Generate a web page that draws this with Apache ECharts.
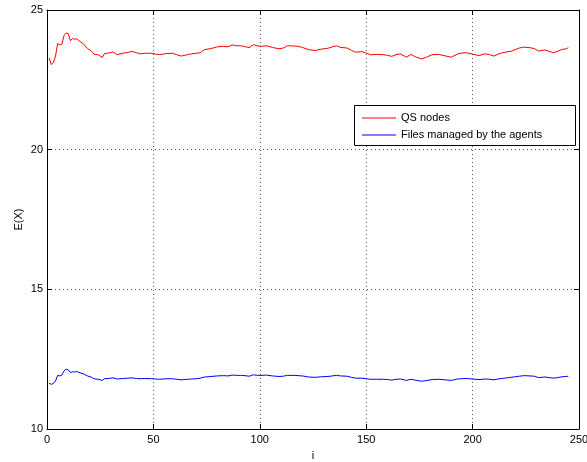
<!DOCTYPE html>
<html>
<head>
<meta charset="utf-8">
<script src="https://cdn.jsdelivr.net/npm/echarts@6/dist/echarts.min.js"></script>
<style>html,body{margin:0;padding:0;background:#fff;}#c{width:587px;height:462px;}</style>
</head>
<body>
<div id="c"></div>
<script>
var xs = [1,2,3,4,5,6,7,8,9,10,11,12,13,14,15,17,19,21,22,24,26,27,29,31,33,36,38,40,42,44,46,49,51,53,56,59,61,63,66,68,70,72,74,77,80,83,85,87,89,91,93,95,97,99,101,103,106,109,111,113,116,118,120,123,126,129,132,134,136,138,141,143,145,148,150,152,155,158,160,162,164,166,169,171,173,176,178,181,184,187,190,193,195,197,200,203,206,208,210,212,214,216,218,220,222,224,227,229,231,234,236,238,240,242,244,245];
var qsNodes = [23.28,23.05,23.12,23.35,23.80,23.75,23.78,24.08,24.18,24.15,23.90,23.98,23.95,23.97,23.90,23.80,23.62,23.52,23.42,23.40,23.30,23.44,23.46,23.50,23.40,23.46,23.48,23.52,23.47,23.43,23.45,23.45,23.42,23.40,23.44,23.45,23.40,23.35,23.40,23.43,23.45,23.47,23.58,23.62,23.68,23.70,23.68,23.75,23.72,23.72,23.69,23.65,23.76,23.71,23.70,23.72,23.66,23.61,23.64,23.72,23.71,23.70,23.66,23.58,23.55,23.60,23.63,23.68,23.72,23.66,23.64,23.56,23.49,23.51,23.46,23.40,23.41,23.40,23.38,23.34,23.40,23.43,23.31,23.41,23.33,23.25,23.30,23.40,23.41,23.36,23.31,23.43,23.46,23.47,23.42,23.37,23.43,23.40,23.35,23.42,23.47,23.50,23.52,23.58,23.64,23.67,23.65,23.62,23.53,23.57,23.52,23.47,23.52,23.59,23.61,23.65];
var filesManaged = [11.64,11.60,11.63,11.72,11.92,11.90,11.93,12.08,12.14,12.12,12.02,12.05,12.04,12.06,12.02,11.98,11.90,11.85,11.80,11.78,11.74,11.80,11.81,11.83,11.79,11.81,11.82,11.83,11.81,11.80,11.81,11.80,11.79,11.78,11.80,11.80,11.78,11.76,11.78,11.79,11.80,11.82,11.86,11.88,11.90,11.91,11.90,11.93,11.92,11.92,11.91,11.89,11.94,11.92,11.92,11.93,11.90,11.88,11.89,11.92,11.92,11.91,11.90,11.86,11.85,11.87,11.88,11.90,11.92,11.90,11.89,11.85,11.82,11.82,11.80,11.78,11.78,11.78,11.77,11.75,11.78,11.79,11.74,11.78,11.75,11.71,11.73,11.77,11.78,11.76,11.74,11.79,11.80,11.81,11.79,11.77,11.79,11.78,11.76,11.79,11.81,11.83,11.85,11.87,11.89,11.91,11.90,11.89,11.84,11.86,11.84,11.82,11.84,11.87,11.88,11.89];
var seriesNames = ['QS nodes','Files managed by the agents'];
var xTicks = {min:0, max:250, interval:50};
var yTicks = {min:10, max:25, interval:5};

var font = 'Liberation Sans, Arial, Helvetica, sans-serif';
var chart = echarts.init(document.getElementById('c'), null, {renderer:'canvas'});
function pairs(v){ return xs.map(function(x,k){ return [x, v[k]]; }); }
var axisBase = {
  axisLine:{show:true, onZero:false, lineStyle:{color:'#000', width:1}},
  axisTick:{show:true, inside:true, length:5, lineStyle:{color:'#000', width:1}}
};
chart.setOption({
  animation:false,
  backgroundColor:'#fff',
  grid:{left:47, right:8, top:10, bottom:33, containLabel:false, outerBoundsMode:'none'},
  xAxis:[
    Object.assign({type:'value', position:'bottom', min:xTicks.min, max:xTicks.max, interval:xTicks.interval,
      name:'i', nameLocation:'middle', nameGap:21, nameTextStyle:{color:'#000', fontSize:11, fontFamily:font},
      axisLabel:{color:'#000', fontSize:11, fontFamily:font, margin:5},
      splitLine:{show:true, lineStyle:{color:'#555', type:[1,3], width:1}}}, axisBase),
    Object.assign({type:'value', position:'top', min:xTicks.min, max:xTicks.max, interval:xTicks.interval,
      axisLabel:{show:false}, splitLine:{show:false}}, axisBase)
  ],
  yAxis:[
    Object.assign({type:'value', position:'left', min:yTicks.min, max:yTicks.max, interval:yTicks.interval,
      name:'E(X)', nameLocation:'middle', nameGap:23, nameMoveOverlap:false, nameRotate:90, nameTextStyle:{color:'#000', fontSize:11, fontFamily:font},
      axisLabel:{color:'#000', fontSize:11, fontFamily:font, margin:4},
      splitLine:{show:true, lineStyle:{color:'#555', type:[1,3], width:1}}}, axisBase),
    Object.assign({type:'value', position:'right', min:yTicks.min, max:yTicks.max, interval:yTicks.interval,
      axisLabel:{show:false}, splitLine:{show:false}}, axisBase)
  ],
  graphic:[{type:'rect', left:354, top:105, z:3, shape:{width:221, height:40},
    style:{fill:'#fff', stroke:'#000', lineWidth:1}}],
  legend:{
    orient:'vertical', left:362, top:111, z:10, itemGap:3, itemWidth:34, itemHeight:1,
    icon:'rect', padding:0,
    textStyle:{color:'#000', fontSize:11, fontFamily:font, lineHeight:14},
    data:seriesNames
  },
  series:[
    {name:seriesNames[0], type:'line', data:pairs(qsNodes), showSymbol:false, symbol:'none',
      lineStyle:{color:'#ff0000', width:1}, itemStyle:{color:'#ff0000'}},
    {name:seriesNames[1], type:'line', data:pairs(filesManaged), showSymbol:false, symbol:'none',
      lineStyle:{color:'#0000ff', width:1}, itemStyle:{color:'#0000ff'}}
  ]
});
</script>
</body>
</html>
